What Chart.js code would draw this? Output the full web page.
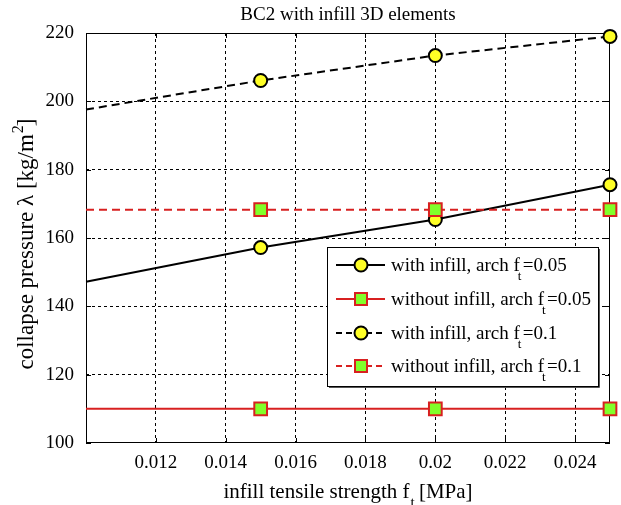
<!DOCTYPE html>
<html>
<head>
<meta charset="utf-8">
<script src="https://cdn.jsdelivr.net/npm/chart.js@4.4.0/dist/chart.umd.min.js"></script>
<style>
  body { margin: 0; background: #fff; }
  canvas { display: block; }
</style>
</head>
<body>
<canvas id="myChart" width="621" height="505"></canvas>
<script>
const xValues = [0.01, 0.015, 0.02, 0.025];
const withInfill005 = [147.2, 157.2, 165.4, 175.6];
const withoutInfill005 = [110, 110, 110, 110];
const withInfill01 = [197.6, 206.1, 213.4, 219.0];
const withoutInfill01 = [168.3, 168.3, 168.3, 168.3];
const xTicks = [0.012, 0.014, 0.016, 0.018, 0.02, 0.022, 0.024];
const yTicks = [100, 120, 140, 160, 180, 200, 220];
const seriesNames = ["with infill, arch f", "without infill, arch f", "with infill, arch f", "without infill, arch f"];
const seriesFt = ["=0.05", "=0.05", "=0.1", "=0.1"];

const YELLOW = "#ffff26";
const GREEN = "#80ff2a";
const RED = "#d82020";
const FONT = "'Liberation Serif', 'Times New Roman', serif";

const pts = (ys) => xValues.map((x, i) => ({ x: x, y: ys[i] }));
const radii = (r) => xValues.map((x, i) => (i === 0 ? 0 : r));

const seriesStyle = [
  { color: "#000", dash: [], marker: "circle" },
  { color: RED, dash: [], marker: "rect" },
  { color: "#000", dash: [8, 5], marker: "circle" },
  { color: RED, dash: [8, 5], marker: "rect" },
];

function makeSet(ys, k) {
  const s = seriesStyle[k];
  const circle = s.marker === "circle";
  return {
    label: seriesNames[k] + "t" + seriesFt[k],
    data: pts(ys),
    borderColor: s.color,
    borderWidth: 2,
    borderDash: s.dash,
    pointStyle: s.marker,
    pointRadius: radii(circle ? 6.5 : 9),
    pointBackgroundColor: circle ? YELLOW : GREEN,
    pointBorderColor: circle ? "#000" : RED,
    pointBorderWidth: 2,
    clip: false,
    order: 4 - k,
  };
}

// text with sub/superscript pieces; p.adv overrides the advance after a piece
function richWidth(ctx, parts, size) {
  let w = 0;
  parts.forEach((p) => {
    ctx.font = (p.sub || p.sup ? Math.round(size * 0.7) : size) + "px " + FONT;
    w += p.adv !== undefined ? p.adv : ctx.measureText(p.t).width;
  });
  return w;
}
function drawRich(ctx, parts, x, y, size) {
  parts.forEach((p) => {
    const s = p.sub || p.sup ? Math.round(size * 0.7) : size;
    ctx.font = s + "px " + FONT;
    let dy = 0;
    if (p.sub) dy = size * 0.45;
    if (p.sup) dy = -size * 0.45;
    ctx.fillText(p.t, x + (p.dx || 0), y + dy);
    x += p.adv !== undefined ? p.adv : ctx.measureText(p.t).width;
  });
}

const framePlugin = {
  id: "frame",
  beforeDatasetsDraw(chart) {
    const ctx = chart.ctx;
    const a = chart.chartArea;
    const xs = chart.scales.x, ys = chart.scales.y;
    ctx.save();
    ctx.strokeStyle = "#000";
    ctx.lineWidth = 1;
    ctx.setLineDash([]);
    ctx.strokeRect(a.left + 0.5, a.top + 0.5, a.right - a.left - 1, a.bottom - a.top - 1);
    ctx.beginPath();
    xTicks.forEach((v) => {
      const px = Math.round(xs.getPixelForValue(v)) + 0.5;
      ctx.moveTo(px, a.bottom); ctx.lineTo(px, a.bottom - 5);
      ctx.moveTo(px, a.top); ctx.lineTo(px, a.top + 5);
    });
    yTicks.forEach((v) => {
      const py = Math.round(ys.getPixelForValue(v)) + 0.5;
      ctx.moveTo(a.left, py); ctx.lineTo(a.left + 5, py);
      ctx.moveTo(a.right, py); ctx.lineTo(a.right - 5, py);
    });
    ctx.stroke();
    ctx.restore();
  },
  afterDraw(chart) {
    const ctx = chart.ctx;
    const a = chart.chartArea;
    ctx.save();
    ctx.fillStyle = "#000";
    ctx.textBaseline = "alphabetic";
    ctx.textAlign = "left";

    // title
    const title = [{ t: "BC2 with infill 3D elements" }];
    let w = richWidth(ctx, title, 19);
    drawRich(ctx, title, (a.left + a.right) / 2 - w / 2, 20, 19);

    // x title
    const xt = [{ t: "infill tensile strength f" }, { t: "t", sub: true, dx: 1 }, { t: " [MPa]" }];
    w = richWidth(ctx, xt, 21);
    drawRich(ctx, xt, (a.left + a.right) / 2 - w / 2, 498, 21);

    // y title
    const yt = [{ t: "collapse pressure \u03bb [kg/m" }, { t: "2", sup: true, dx: 1 }, { t: "]" }];
    w = richWidth(ctx, yt, 23);
    ctx.save();
    ctx.translate(33, (a.top + a.bottom) / 2 + 6);
    ctx.rotate(-Math.PI / 2);
    drawRich(ctx, yt, -w / 2, 0, 23);
    ctx.restore();

    // legend
    const lx = 327, ly = 247, lw = 271, lh = 139;
    ctx.fillStyle = "#fff";
    ctx.fillRect(lx, ly, lw, lh);
    ctx.strokeStyle = "#000";
    ctx.lineWidth = 1;
    ctx.strokeRect(lx + 0.5, ly + 0.5, lw, lh);
    ctx.strokeStyle = "#555";
    ctx.beginPath();
    ctx.moveTo(lx + lw + 1.5, ly + 2); ctx.lineTo(lx + lw + 1.5, ly + lh + 1.5); ctx.lineTo(lx + 2, ly + lh + 1.5);
    ctx.stroke();

    const rowY = [265, 299, 333, 366];
    seriesStyle.forEach((s, k) => {
      const cy = rowY[k];
      ctx.strokeStyle = s.color;
      ctx.lineWidth = 2;
      ctx.setLineDash(s.dash.length ? [6, 4] : []);
      ctx.beginPath();
      ctx.moveTo(336, cy); ctx.lineTo(385, cy);
      ctx.stroke();
      ctx.setLineDash([]);
      if (s.marker === "circle") {
        ctx.beginPath();
        ctx.arc(361, cy, 6.5, 0, Math.PI * 2);
        ctx.fillStyle = YELLOW;
        ctx.fill();
        ctx.strokeStyle = "#000";
        ctx.stroke();
      } else {
        ctx.fillStyle = GREEN;
        ctx.fillRect(355, cy - 6, 12, 12);
        ctx.strokeStyle = RED;
        ctx.strokeRect(355, cy - 6, 12, 12);
      }
      ctx.fillStyle = "#000";
      drawRich(ctx, [{ t: seriesNames[k] }, { t: "t", sub: true, dx: -2, adv: 3 }, { t: seriesFt[k] }], 391, cy + 6, 19);
    });
    ctx.restore();
  },
};

const config = {
  type: "line",
  data: {
    datasets: [
      makeSet(withInfill005, 0),
      makeSet(withoutInfill005, 1),
      makeSet(withInfill01, 2),
      makeSet(withoutInfill01, 3),
    ],
  },
  options: {
    responsive: false,
    animation: false,
    layout: { padding: { top: 33, right: 7, left: 0, bottom: 0 } },
    scales: {
      x: {
        type: "linear",
        min: 0.01,
        max: 0.025,
        afterBuildTicks: (s) => { s.ticks = xTicks.map((v) => ({ value: v })); },
        afterFit: (s) => { s.height = 62; },
        border: { display: false, dash: [3, 3] },
        grid: { color: "#000", lineWidth: 1, drawTicks: false },
        ticks: {
          padding: 9,
          color: "#000",
          font: { family: FONT, size: 19 },
          callback: (v) => String(+Number(v).toFixed(3)),
        },
      },
      y: {
        type: "linear",
        min: 100,
        max: 220,
        afterBuildTicks: (s) => { s.ticks = yTicks.map((v) => ({ value: v })); },
        afterFit: (s) => { s.width = 86; },
        border: { display: false, dash: [3, 3] },
        grid: {
          lineWidth: 1,
          drawTicks: false,
          color: (c) => (c.tick && (c.tick.value === 100 || c.tick.value === 220) ? "rgba(0,0,0,0)" : "#000"),
        },
        ticks: {
          padding: 12,
          color: "#000",
          font: { family: FONT, size: 19 },
        },
      },
    },
    plugins: {
      legend: { display: false },
      tooltip: { enabled: false },
    },
  },
  plugins: [framePlugin],
};

new Chart(document.getElementById("myChart"), config);
</script>
</body>
</html>
